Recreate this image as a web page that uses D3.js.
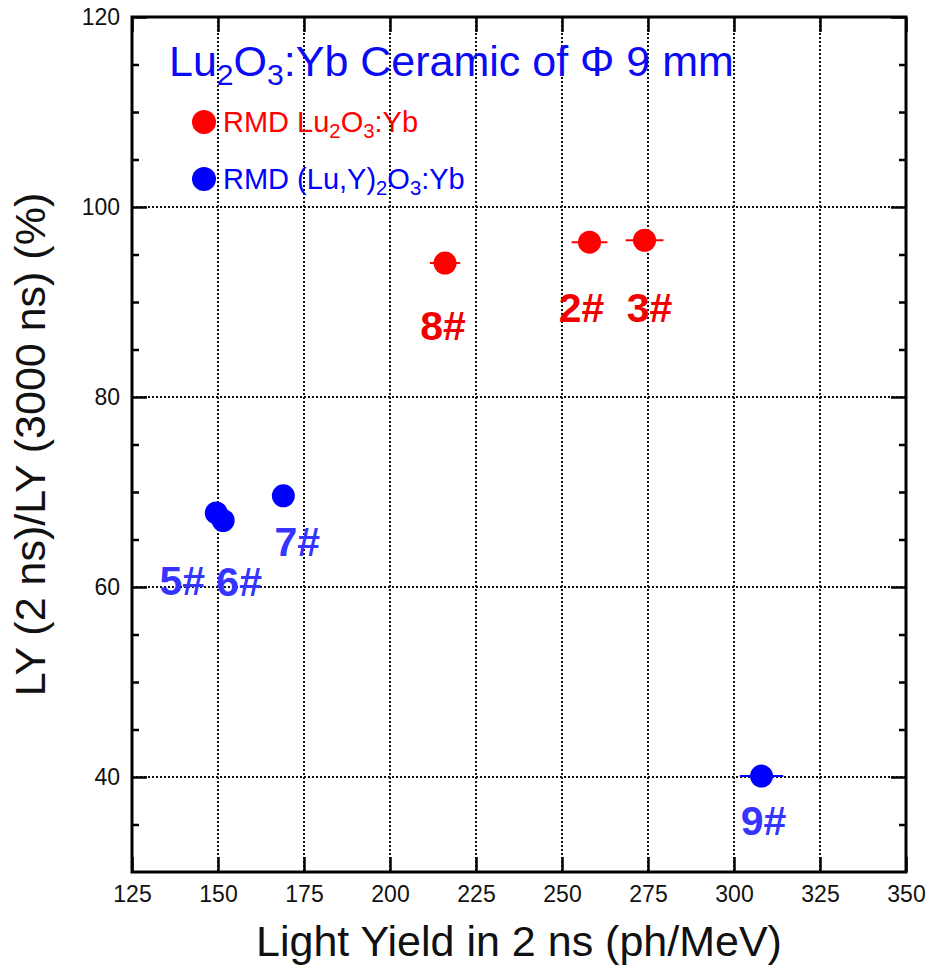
<!DOCTYPE html>
<html lang="en">
<head>
<meta charset="UTF-8">
<title>Lu2O3:Yb Ceramic LY ratio</title>
<style>
  body { margin: 0; background: #fff; }
  svg { display: block; font-family: Arial, "Liberation Sans", sans-serif; }
</style>
</head>
<body>
<div id="chart"></div>
<script src="https://d3js.org/d3.v7.min.js"></script>
<script>
// data
const samples    = ["2#", "3#", "8#", "5#", "6#", "7#", "9#"];
const groups     = ["Lu2O3", "Lu2O3", "Lu2O3", "LuY", "LuY", "LuY", "LuY"];
const lightYield = [258, 274, 216, 149.5, 151.5, 169, 308];     // ph/MeV in 2 ns
const lyError    = [5.2, 5.5, 4.4, 2, 2, 2, 6.3];
const ratio      = [96.3, 96.5, 94.1, 67.8, 67.0, 69.6, 40.1];  // %

const xTicks = [125, 150, 175, 200, 225, 250, 275, 300, 325, 350];
const yTicks = [40, 60, 80, 100, 120];
const yMinor = [35, 45, 50, 55, 65, 70, 75, 85, 90, 95, 105, 110, 115];

const width = 932, height = 965;
const margin = {top: 17, right: 26, bottom: 93, left: 132};

const colors = {Lu2O3: "#ff0000", LuY: "#0000ff"};
const labelColors = {Lu2O3: "#f00000", LuY: "#3535ff"};
// label placement relative to each point (px)
const labelOffset = {
  "2#": [-8, 80], "3#": [5, 82], "8#": [-2, 77],
  "5#": [-34, 82], "6#": [16, 75], "7#": [14, 60], "9#": [2, 59]
};

const svg = d3.select("#chart").append("svg")
  .attr("width", width)
  .attr("height", height);

const x = d3.scaleLinear().domain([125, 350]).range([margin.left, width - margin.right]);
const y = d3.scaleLinear().domain([30, 120]).range([height - margin.bottom, margin.top]);

// dotted grid
const grid = svg.append("g")
  .attr("stroke", "#111")
  .attr("stroke-width", 2)
  .attr("stroke-dasharray", "2,2");
grid.selectAll(".gx").data(xTicks.slice(1, -1)).join("line")
  .attr("x1", d => x(d)).attr("x2", d => x(d))
  .attr("y1", y(120)).attr("y2", y(30));
grid.selectAll(".gy").data(yTicks.filter(d => d < 120)).join("line")
  .attr("y1", d => y(d)).attr("y2", d => y(d))
  .attr("x1", x(125)).attr("x2", x(350));

// axes with inward ticks on all sides
function styleAxis(g) {
  g.select(".domain").remove();
  g.selectAll(".tick line").attr("stroke", "#000").attr("stroke-width", 2.5);
  g.selectAll(".tick text").attr("font-size", 23).attr("fill", "#111");
}
svg.append("g")
  .attr("transform", `translate(0,${y(30)})`)
  .call(d3.axisBottom(x).tickValues(xTicks).tickSize(-15).tickPadding(14))
  .call(styleAxis);
svg.append("g")
  .attr("transform", `translate(0,${y(120)})`)
  .call(d3.axisTop(x).tickValues(xTicks).tickSize(-15).tickFormat(""))
  .call(styleAxis);
svg.append("g")
  .attr("transform", `translate(${x(125)},0)`)
  .call(d3.axisLeft(y).tickValues(yTicks).tickSize(-15).tickPadding(12))
  .call(styleAxis);
svg.append("g")
  .attr("transform", `translate(${x(125)},0)`)
  .call(d3.axisLeft(y).tickValues(yMinor).tickSize(-7).tickFormat(""))
  .call(styleAxis);
svg.append("g")
  .attr("transform", `translate(${x(350)},0)`)
  .call(d3.axisRight(y).tickValues(yTicks).tickSize(-15).tickFormat(""))
  .call(styleAxis);
svg.append("g")
  .attr("transform", `translate(${x(350)},0)`)
  .call(d3.axisRight(y).tickValues(yMinor).tickSize(-7).tickFormat(""))
  .call(styleAxis);

// frame
svg.append("rect")
  .attr("x", x(125)).attr("y", y(120))
  .attr("width", x(350) - x(125)).attr("height", y(30) - y(120))
  .attr("fill", "none").attr("stroke", "#000").attr("stroke-width", 3);

// axis titles
svg.append("text")
  .attr("x", (x(125) + x(350)) / 2).attr("y", 956)
  .attr("text-anchor", "middle").attr("font-size", 43).attr("fill", "#111")
  .text("Light Yield in 2 ns (ph/MeV)");
svg.append("text")
  .attr("transform", `translate(45,${(y(30) + y(120)) / 2}) rotate(-90)`)
  .attr("text-anchor", "middle").attr("font-size", 43).attr("fill", "#111")
  .text("LY (2 ns)/LY (3000 ns) (%)");

// points
const pts = samples.map((s, i) => ({s, g: groups[i], lx: lightYield[i], e: lyError[i], r: ratio[i]}));

svg.append("g").selectAll("line").data(pts).join("line")
  .attr("x1", d => x(d.lx - d.e)).attr("x2", d => x(d.lx + d.e))
  .attr("y1", d => y(d.r)).attr("y2", d => y(d.r))
  .attr("stroke", d => colors[d.g]).attr("stroke-width", 2);

svg.append("g").selectAll("circle").data(pts).join("circle")
  .attr("cx", d => x(d.lx)).attr("cy", d => y(d.r)).attr("r", 11.5)
  .attr("fill", d => colors[d.g]);

svg.append("g").selectAll("text").data(pts).join("text")
  .attr("x", d => x(d.lx) + labelOffset[d.s][0])
  .attr("y", d => y(d.r) + labelOffset[d.s][1])
  .attr("text-anchor", "middle")
  .attr("font-size", 41).attr("font-weight", "bold")
  .attr("fill", d => labelColors[d.g])
  .text(d => d.s);

// text with chemical subscripts
function chem(sel, parts) {
  parts.forEach(p => {
    const t = sel.append("tspan").text(p[0]);
    if (p[1]) t.attr("font-size", "70%").attr("dy", "0.3em");
    else if (p[2]) t.attr("dy", "-0.21em");
  });
}
const title = svg.append("text")
  .attr("x", 169).attr("y", 76)
  .attr("font-size", 43).attr("fill", "#0a0af5");
chem(title, [["Lu"], ["2", 1], ["O", 0, 1], ["3", 1], [":Yb Ceramic of \u03A6 9 mm", 0, 1]]);

// legend
const legend = [
  {g: "Lu2O3", parts: [["RMD Lu"], ["2", 1], ["O", 0, 1], ["3", 1], [":Yb", 0, 1]]},
  {g: "LuY", parts: [["RMD (Lu,Y)"], ["2", 1], ["O", 0, 1], ["3", 1], [":Yb", 0, 1]]}
];
legend.forEach((l, i) => {
  const cy = 122 + i * 57;
  svg.append("circle").attr("cx", 204).attr("cy", cy).attr("r", 12).attr("fill", colors[l.g]);
  const t = svg.append("text").attr("x", 223).attr("y", cy + 10)
    .attr("font-size", 29).attr("fill", colors[l.g]);
  chem(t, l.parts);
});
</script>
</body>
</html>
